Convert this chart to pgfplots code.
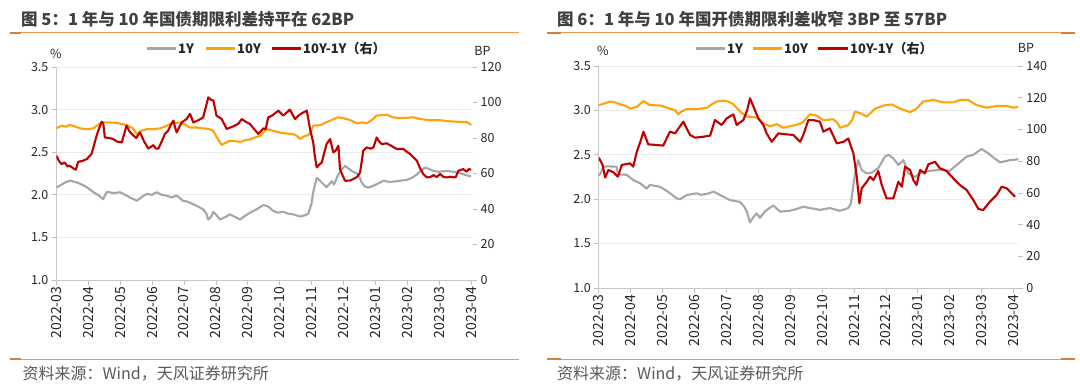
\documentclass[border=0pt]{standalone}
\usepackage{pgfplots}
\pgfplotsset{compat=1.18}
\usepackage{pgfplotstable}
\usepackage{fontspec}
\setmainfont{Noto Sans CJK SC}
\definecolor{cOne}{RGB}{166,166,166}
\definecolor{cTen}{RGB}{255,163,10}
\definecolor{cSpr}{RGB}{192,0,0}
\definecolor{cLine}{RGB}{247,150,70}
\definecolor{cTitle}{RGB}{64,64,64}
\definecolor{cSrc}{RGB}{89,89,89}

\pgfplotstableread{
m v
0 2.086
0.16 2.12
0.3 2.15
0.43 2.165
0.6 2.15
0.74 2.13
0.95 2.09
1.16 2.03
1.3 2.00
1.47 1.95
1.58 2.035
1.8 2.02
2.0 2.03
2.15 2.00
2.3 1.97
2.52 1.93
2.7 1.98
2.83 2.01
3.0 2.00
3.14 2.03
3.3 2.00
3.46 1.99
3.6 1.97
3.77 1.99
3.97 1.93
4.1 1.92
4.29 1.89
4.45 1.86
4.6 1.83
4.7 1.78
4.76 1.71
4.85 1.74
4.92 1.80
5.02 1.76
5.13 1.71
5.3 1.74
5.44 1.77
5.6 1.74
5.76 1.71
5.9 1.75
6.07 1.79
6.28 1.83
6.49 1.88
6.65 1.86
6.8 1.81
6.95 1.79
7.11 1.80
7.25 1.78
7.43 1.77
7.64 1.745
7.8 1.76
7.9 1.78
8.0 1.90
8.05 2.03
8.16 2.20
8.25 2.17
8.37 2.125
8.47 2.09
8.63 2.16
8.7 2.12
8.84 2.24
8.95 2.30
9.05 2.34
9.15 2.31
9.26 2.28
9.46 2.24
9.57 2.145
9.66 2.10
9.78 2.085
9.9 2.10
10.04 2.125
10.25 2.165
10.45 2.15
10.67 2.16
10.98 2.175
11.15 2.20
11.3 2.24
11.45 2.29
11.56 2.32
11.7 2.30
11.82 2.28
12.0 2.27
12.24 2.28
12.45 2.27
12.65 2.255
12.85 2.23
13.0 2.215
}\gzOne

\pgfplotstableread{
m v
0 2.78
0.16 2.81
0.3 2.80
0.42 2.82
0.6 2.80
0.74 2.78
0.95 2.77
1.16 2.78
1.3 2.82
1.42 2.85
1.6 2.85
1.89 2.845
2.05 2.83
2.2 2.82
2.4 2.78
2.52 2.71
2.65 2.75
2.83 2.77
3.05 2.77
3.25 2.78
3.4 2.80
3.56 2.83
3.7 2.84
3.87 2.85
4.0 2.83
4.19 2.79
4.4 2.79
4.6 2.78
4.8 2.77
4.92 2.75
5.05 2.66
5.18 2.585
5.3 2.61
5.44 2.635
5.6 2.63
5.76 2.62
5.9 2.64
6.07 2.65
6.2 2.67
6.38 2.69
6.5 2.74
6.59 2.77
6.8 2.75
7.01 2.73
7.2 2.72
7.43 2.71
7.55 2.69
7.64 2.655
7.78 2.69
7.9 2.70
8.0 2.76
8.05 2.81
8.3 2.82
8.45 2.85
8.58 2.87
8.7 2.89
8.84 2.91
9.1 2.89
9.25 2.87
9.41 2.84
9.6 2.85
9.73 2.84
9.9 2.88
10.04 2.93
10.2 2.935
10.35 2.94
10.55 2.91
10.77 2.90
11.0 2.905
11.19 2.91
11.4 2.89
11.6 2.88
11.8 2.875
12.03 2.875
12.25 2.865
12.44 2.86
12.65 2.855
12.86 2.855
12.95 2.835
13.0 2.82
}\gzTen

\pgfplotstableread{
m v
0 70.0
0.08 67
0.16 65.3
0.26 66.2
0.35 64
0.42 64.4
0.52 63
0.61 62.1
0.68 66.6
0.8 67
0.95 68.1
1.1 71.0
1.18 76
1.26 81.3
1.35 86
1.42 89.2
1.47 88
1.52 80.3
1.65 80
1.78 79.4
1.9 78
2.05 77.5
2.12 82
2.2 87.0
2.28 84
2.36 82.3
2.5 80
2.62 83.2
2.75 78
2.88 74.1
2.96 75
3.04 76.0
3.12 74
3.2 74.1
3.3 78
3.4 82.3
3.5 84
3.6 88
3.67 89.8
3.72 86
3.77 83.2
3.85 86
3.93 88.8
4.08 90.7
4.19 93.6
4.29 88.8
4.45 90
4.6 91.6
4.68 97
4.76 102.9
4.85 101.5
4.92 101.1
5.02 92.6
5.18 90.7
5.34 85.1
5.55 86.6
5.7 88
5.81 90.7
5.95 89
6.07 87.9
6.2 85
6.33 82.3
6.49 85.4
6.56 85
6.64 91.6
6.75 92.5
6.96 95.4
7.11 92.6
7.32 96.0
7.48 90.7
7.59 92.6
7.7 94
7.85 95.4
7.95 85.1
8.05 77.5
8.1 70
8.16 63.4
8.24 65
8.32 66.2
8.4 72
8.47 76.6
8.58 79.4
8.68 71.9
8.76 73
8.84 75.7
8.89 62.5
8.97 59
9.05 55.9
9.2 56
9.31 56.9
9.42 58
9.52 60.6
9.62 72.8
9.73 74.7
9.85 74
9.94 74.7
10.04 80.3
10.12 78
10.2 76.6
10.35 77
10.46 76.0
10.55 75
10.67 73.8
10.88 73.8
11.0 72
11.09 71.0
11.2 69
11.3 67.2
11.4 63
11.5 59.7
11.61 57.8
11.72 58
11.82 59.1
11.92 58
12.03 59.7
12.14 58
12.24 57.8
12.35 58.2
12.44 57.8
12.52 58
12.6 61.5
12.75 62.5
12.86 61.0
12.93 62.5
13.0 62.1
}\gzSpr

\pgfplotstableread{
m v
0 2.265
0.07 2.30
0.14 2.366
0.3 2.37
0.56 2.366
0.6 2.28
0.87 2.275
1.08 2.216
1.29 2.18
1.5 2.12
1.6 2.16
1.92 2.14
2.1 2.10
2.23 2.067
2.44 2.01
2.55 2.00
2.76 2.047
3.07 2.066
3.2 2.05
3.39 2.06
3.6 2.085
3.8 2.047
3.95 2.02
4.11 1.99
4.42 1.97
4.55 1.92
4.64 1.86
4.74 1.74
4.85 1.80
4.95 1.84
5.05 1.79
5.2 1.86
5.35 1.90
5.47 1.93
5.68 1.86
5.99 1.87
6.2 1.89
6.41 1.915
6.62 1.90
6.93 1.88
7.24 1.90
7.56 1.87
7.82 1.90
7.9 1.95
7.98 2.16
8.05 2.32
8.13 2.44
8.24 2.33
8.4 2.29
8.56 2.30
8.76 2.35
8.97 2.48
9.08 2.50
9.23 2.46
9.39 2.385
9.55 2.44
9.7 2.29
9.91 2.25
10.12 2.30
10.38 2.32
10.69 2.33
11.0 2.32
11.22 2.385
11.53 2.48
11.74 2.50
12.0 2.565
12.21 2.517
12.4 2.46
12.58 2.415
12.9 2.44
13.15 2.45
}\kfOne

\pgfplotstableread{
m v
0 3.06
0.2 3.08
0.35 3.10
0.5 3.09
0.66 3.07
0.85 3.05
0.98 3.02
1.19 3.04
1.4 3.105
1.6 3.06
1.92 3.055
2.23 3.02
2.4 3.00
2.49 2.955
2.6 2.99
2.76 3.015
3.07 3.015
3.39 3.03
3.55 3.07
3.7 3.10
3.9 3.11
4.05 3.10
4.22 3.07
4.43 2.985
4.64 2.93
4.95 2.92
5.16 2.855
5.37 2.82
5.58 2.845
5.78 2.805
6.1 2.83
6.31 2.85
6.41 2.873
6.55 2.93
6.62 2.956
6.83 2.94
7.04 2.89
7.35 2.90
7.48 2.86
7.56 2.805
7.82 2.835
7.95 2.90
8.03 2.985
8.19 2.97
8.4 2.93
8.66 3.02
8.98 3.06
9.19 3.067
9.44 3.02
9.76 2.98
9.96 3.02
10.17 3.10
10.49 3.117
10.8 3.09
11.11 3.09
11.32 3.117
11.58 3.117
11.84 3.06
12.16 3.03
12.47 3.05
12.79 3.05
13.0 3.03
13.15 3.04
}\kfTen

\pgfplotstableread{
m v
0.0 82.2
0.12 77.6
0.2 69.6
0.3 74.4
0.46 72.9
0.6 70.2
0.72 77.6
0.98 78.6
1.08 76.5
1.19 85.9
1.3 92
1.4 98.6
1.55 90.6
1.81 90.2
2.02 89.8
2.12 94
2.23 98.6
2.39 97.5
2.5 100.7
2.65 104.9
2.86 96.5
3.02 94.8
3.28 95.4
3.49 96.1
3.64 105.9
3.85 102.8
4.01 107.0
4.22 109.5
4.32 102.8
4.53 105.9
4.65 112
4.74 119.6
4.85 114.3
5.0 107.0
5.16 102.8
5.26 97.5
5.42 92.2
5.63 97.5
5.89 96.9
6.1 96.5
6.31 92.2
6.41 96.5
6.57 105.9
6.72 105.9
6.93 104.9
7.04 98.6
7.24 100.7
7.46 91.2
7.67 92.2
7.82 94.3
7.98 84.9
8.08 71.2
8.17 53.4
8.24 62.8
8.4 67.0
8.5 70.2
8.61 68.1
8.76 73.8
8.87 64.9
9.02 56.5
9.23 56.5
9.39 67.0
9.5 63.9
9.6 76.5
9.76 74.4
9.86 68.1
9.96 64.9
10.07 74.4
10.22 72.3
10.33 78.0
10.54 79.6
10.69 75.6
10.9 73.8
11.11 69.2
11.32 64.9
11.53 61.8
11.74 55.5
11.9 49.8
12.05 49.2
12.26 54.4
12.47 58.6
12.63 63.9
12.79 62.8
13.0 58.6
13.05 57.6
}\kfSpr

\pgfplotsset{
  base/.style={scale only axis, anchor=south west, xmin=0,
    tick align=outside, major tick length=4.5pt,
    tick style={color=black!25, line width=0.7pt},
    axis line style={color=black!22, line width=0.8pt},
    ticklabel style={font=\fontsize{12.5}{12.5}\selectfont, text=black!85},
    /pgf/number format/assume math mode=true},
  leftax/.style={base, axis x line*=bottom, axis y line*=left,
    ymin=1, ymax=3.5, ytick={1,1.5,2,2.5,3,3.5},
    ymajorgrids, grid style={color=black!8, line width=0.7pt},
    yticklabel style={/pgf/number format/.cd, fixed, fixed zerofill, precision=1},
    xtick={0,...,13},
    xticklabels={2022-03,2022-04,2022-05,2022-06,2022-07,2022-08,2022-09,2022-10,2022-11,2022-12,2023-01,2023-02,2023-03,2023-04},
    xticklabel style={rotate=90, anchor=east, inner sep=2pt, font=\fontsize{14}{14}\selectfont}},
  rightax/.style={base, axis x line=none, axis y line*=right,
    y axis line style={draw=none}, ymin=0},
  ser/.style={line width=2.1pt, line join=round},
}

\begin{document}
\begin{tikzpicture}[x=1pt,y=1pt]
\path[use as bounding box, fill=white] (0,0) rectangle (1080,384);

% ---------- left panel decorations
\node[anchor=west, inner sep=0, text=cTitle, font=\fontsize{16.5}{16.5}\selectfont\bfseries] at (21,365) {图 5：1 年与 10 年国债期限利差持平在 62BP};
\draw[cLine, line width=1pt] (10,351) -- (519,351);
\draw[cLine!85!black, line width=2pt] (10,351) -- (21,351);
\draw[cLine, line width=1pt] (10,25) -- (519,25);
\draw[cLine!85!black, line width=2pt] (10,25) -- (21,25);
\node[anchor=west, inner sep=0, text=cSrc, font=\fontsize{16}{16}\selectfont] at (22.5,10) {资料来源：Wind，天风证券研究所};
\node[inner sep=0, text=black!85, font=\fontsize{12.5}{12.5}\selectfont] at (56,330) {\%};
\node[inner sep=0, text=black!85, font=\fontsize{12.5}{12.5}\selectfont] at (482.5,333) {BP};
% legend
\begin{scope}[font=\fontsize{13}{13}\selectfont\bfseries, text=black!85]
\draw[cOne, line width=3pt] (147,335.6) -- (176,335.6);
\node[anchor=west, inner sep=0] at (178,335.6) {1Y};
\draw[cTen, line width=3pt] (206,335.6) -- (235,335.6);
\node[anchor=west, inner sep=0] at (237,335.6) {10Y};
\draw[cSpr, line width=3pt] (272,335.6) -- (301,335.6);
\node[anchor=west, inner sep=0] at (303,335.6) {10Y-1Y（右）};
\end{scope}

% ---------- left panel axes
\begin{axis}[leftax, at={(56.4pt,104pt)}, width=416.3pt, height=213pt, xmax=13.05]
\addplot[ser, cOne] table[x=m, y=v] {\gzOne};
\addplot[ser, cTen] table[x=m, y=v] {\gzTen};
\end{axis}
\begin{axis}[rightax, at={(56.4pt,104pt)}, width=416.3pt, height=213pt, xmax=13.05,
  ymax=120, ytick={0,20,...,120}]
\addplot[ser, cSpr] table[x=m, y=v] {\gzSpr};
\end{axis}

% ---------- right panel decorations
\node[anchor=west, inner sep=0, text=cTitle, font=\fontsize{16.5}{16.5}\selectfont\bfseries] at (557,365) {图 6：1 年与 10 年国开债期限利差收窄 3BP 至 57BP};
\draw[cLine, line width=1pt] (547,351) -- (1075,351);
\draw[cLine!85!black, line width=2pt] (547,351) -- (561,351);
\draw[cLine!85!black, line width=2pt] (1061,351) -- (1075,351);
\draw[cLine, line width=1pt] (547,25) -- (1075,25);
\draw[cLine!85!black, line width=2pt] (547,25) -- (561,25);
\draw[cLine!85!black, line width=2pt] (1061,25) -- (1075,25);
\node[anchor=west, inner sep=0, text=cSrc, font=\fontsize{16}{16}\selectfont] at (557,10) {资料来源：Wind，天风证券研究所};
\node[inner sep=0, text=black!85, font=\fontsize{12.5}{12.5}\selectfont] at (603,333) {\%};
\node[inner sep=0, text=black!85, font=\fontsize{12.5}{12.5}\selectfont] at (1026,336) {BP};
\begin{scope}[font=\fontsize{13}{13}\selectfont\bfseries, text=black!85]
\draw[cOne, line width=3pt] (696,335.6) -- (725,335.6);
\node[anchor=west, inner sep=0] at (727,335.6) {1Y};
\draw[cTen, line width=3pt] (753,335.6) -- (782,335.6);
\node[anchor=west, inner sep=0] at (784,335.6) {10Y};
\draw[cSpr, line width=3pt] (818,335.6) -- (848,335.6);
\node[anchor=west, inner sep=0] at (850,335.6) {10Y-1Y（右）};
\end{scope}

% ---------- right panel axes
\begin{axis}[leftax, at={(598.8pt,96pt)}, width=419.5pt, height=222pt, xmax=13.15]
\addplot[ser, cOne] table[x=m, y=v] {\kfOne};
\addplot[ser, cTen] table[x=m, y=v] {\kfTen};
\end{axis}
\begin{axis}[rightax, at={(598.8pt,96pt)}, width=419.5pt, height=222pt, xmax=13.15,
  ymax=140, ytick={0,20,...,140}]
\addplot[ser, cSpr] table[x=m, y=v] {\kfSpr};
\end{axis}
\end{tikzpicture}
\end{document}
